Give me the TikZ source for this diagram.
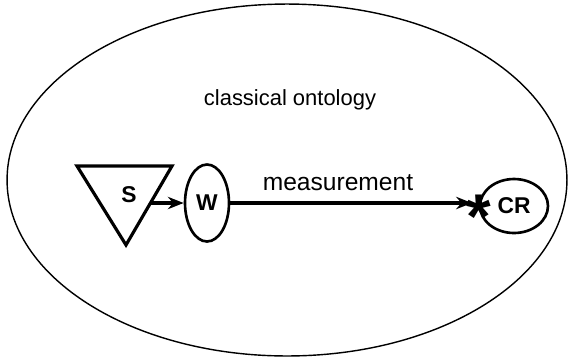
\documentclass[tikz,border=0pt]{standalone}
\usepackage{fontspec}
\setmainfont{Liberation Sans}
\usetikzlibrary{arrows.meta, positioning, calc, shapes.geometric}

\begin{document}
\begin{tikzpicture}[
    x=0.02cm, y=-0.02cm,
    blob/.style={draw, ellipse, line width=1.5pt, inner sep=0pt, font=\bfseries\fontsize{13}{15}\selectfont},
    label/.style={font=\fontsize{12.5}{15}\selectfont, inner sep=0pt},
    conn/.style={draw, -{Stealth[length=9pt, width=7pt]}, line width=1.8pt}
]
\useasboundingbox (0,0) rectangle (570,359);
% Ontology
\node[draw, ellipse, line width=0.8pt, minimum width=11.2cm, minimum height=7.04cm] (onto) at (287,180) {};
\node[label] (ontolabel) at (290,100) {classical ontology};
% Nodes
\coordinate (ta) at (77,166);
\coordinate (tb) at (172,166);
\coordinate (tc) at (126,245);
\draw[line width=1.8pt, line join=miter] (ta) -- (tb) -- (tc) -- cycle;
\node[font=\bfseries\fontsize{13}{15}\selectfont] (sys) at (129,195) {S};
\coordinate (sout) at (150,203);
\node[blob, minimum width=0.88cm, minimum height=1.54cm] (world) at (207,203) {W};
\node[blob, minimum width=1.36cm, minimum height=1.08cm] (cr) at (514,206) {CR};
\node[font=\bfseries\fontsize{36}{36}\selectfont, inner sep=0pt] (star) at (479,217) {*};
\coordinate (hit) at (472,203);
% Edges
\draw[conn] (sout) -- (world);
\draw[conn] (world) -- (hit);
\node[font=\fontsize{14}{16}\selectfont, inner sep=0pt] (meas) at (338,183) {measurement};
\end{tikzpicture}
\end{document}
